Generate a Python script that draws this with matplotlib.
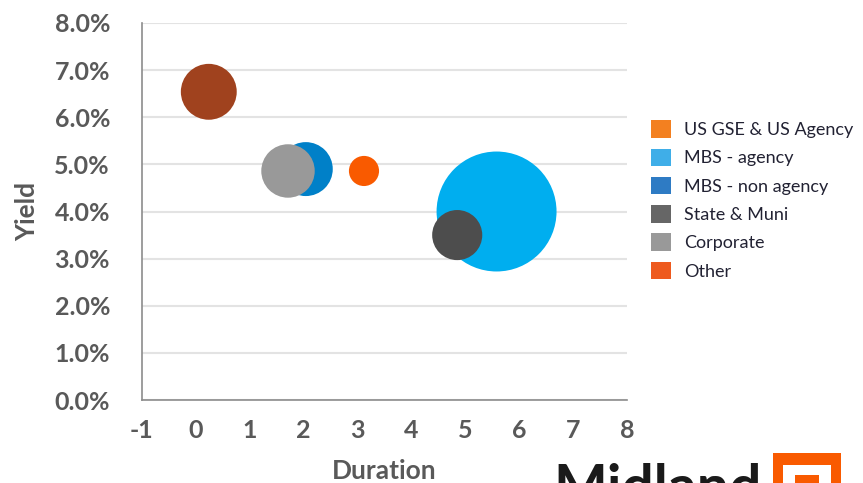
import matplotlib
matplotlib.use("Agg")
import matplotlib.pyplot as plt
from matplotlib.patches import Patch, Rectangle

# Bubble data (draw order: back to front)
names = ["MBS - agency", "State & Muni", "MBS - non agency", "Corporate", "Other", "US GSE & US Agency"]
duration = [5.58, 4.85, 2.04, 1.71, 3.12, 0.24]
yield_pct = [4.0, 3.5, 4.9, 4.86, 4.86, 6.54]
allocation = [53.9, 9.4, 10.9, 10.7, 3.4, 11.7]
bubble_colors = ["#00AEEF", "#4D4D4D", "#0080C8", "#999999", "#F95A00", "#A0421E"]

# Legend entries
legend_names = ["US GSE & US Agency", "MBS - agency", "MBS - non agency", "State & Muni", "Corporate", "Other"]
legend_colors = ["#F38020", "#3FAEE8", "#2E7BC4", "#666666", "#999999", "#EE5A1E"]

x_ticks = list(range(-1, 9))
x_labels = ["-1", "0", "1", "2", "3", "4", "5", "6", "7", "8"]
y_ticks = [0, 1, 2, 3, 4, 5, 6, 7, 8]
y_labels = ["0.0%", "1.0%", "2.0%", "3.0%", "4.0%", "5.0%", "6.0%", "7.0%", "8.0%"]

fig = plt.figure(figsize=(8.63, 4.83), dpi=100)
ax = fig.add_axes([0.1645, 0.1718, 0.562, 0.7806])

ax.scatter(duration, yield_pct, s=[a * 138.4 for a in allocation], c=bubble_colors,
           linewidths=0, zorder=3)

ax.set_xlim(-1, 8)
ax.set_ylim(0, 8)
ax.set_xticks(x_ticks, x_labels)
ax.set_yticks(y_ticks, y_labels)
ax.grid(axis="y", color="#E3E3E3", linewidth=1.5, zorder=0)
ax.tick_params(length=0, labelsize=18, labelcolor="#595959")
ax.tick_params(axis="x", pad=14)
ax.tick_params(axis="y", pad=23)
for lab in ax.get_xticklabels() + ax.get_yticklabels():
    lab.set_fontfamily("Lato")
    lab.set_fontweight("bold")

for side in ["top", "right"]:
    ax.spines[side].set_visible(False)
for side in ["left", "bottom"]:
    ax.spines[side].set_color("#8C8C8C")
    ax.spines[side].set_linewidth(1.2)

ax.set_xlabel("Duration", fontsize=19, fontweight="bold", color="#595959", family="Lato", labelpad=12)
ax.set_ylabel("Yield", fontsize=19, fontweight="bold", color="#595959", family="Lato", labelpad=11)

handles = [Patch(facecolor=c, edgecolor="none") for c in legend_colors]
fig.legend(handles, legend_names, loc="center left", bbox_to_anchor=(0.736, 0.586),
           frameon=False, prop={"family": "Lato", "size": 13}, handlelength=1.1,
           handleheight=1.1, handletextpad=0.7, labelspacing=0.58, labelcolor="#222233")

# Midland logo, cut off at the bottom edge
fig.text(553 / 863, -0.068, "Midland", fontsize=41, fontweight="bold", family="Lato",
         color="#1A1A1A", ha="left", va="bottom")
fig.add_artist(Rectangle((773 / 863, -0.02), 68 / 863, 30 / 483 + 0.02,
                         transform=fig.transFigure, facecolor="#F95A00", edgecolor="none"))
fig.add_artist(Rectangle((783 / 863, -0.02), 48 / 863, 18 / 483 + 0.02,
                         transform=fig.transFigure, facecolor="white", edgecolor="none"))
fig.add_artist(Rectangle((795 / 863, -0.02), 24 / 863, 8 / 483 + 0.02,
                         transform=fig.transFigure, facecolor="#F95A00", edgecolor="none"))

fig.savefig("out.png", dpi=100)
